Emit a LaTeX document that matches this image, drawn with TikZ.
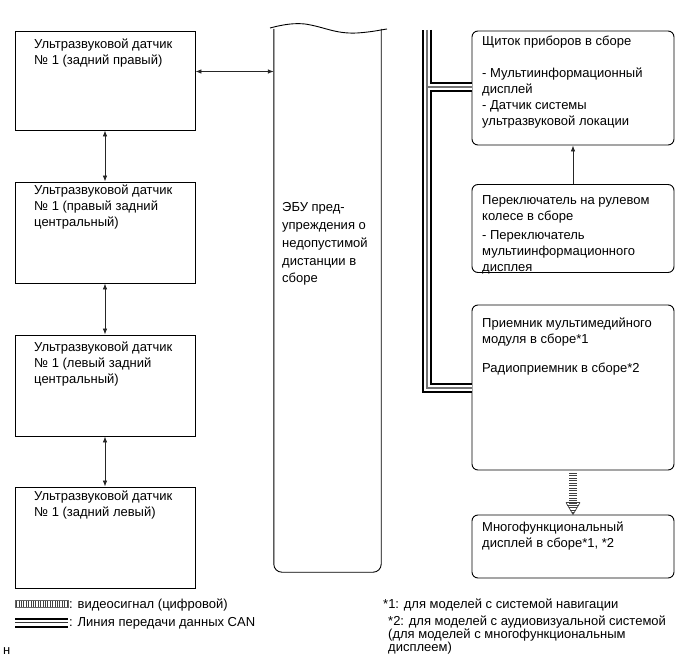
\documentclass[tikz,border=0pt]{standalone}
\usepackage{fontspec}
\setmainfont{Liberation Sans}
\usetikzlibrary{arrows.meta,calc}
\begin{document}
\begin{tikzpicture}[x=1pt,y=-1pt,
  lbox/.style={draw=black,line width=0.9pt,inner sep=0pt},
  rbox/.style={lbox,rounded corners=6pt},
  txt/.style={anchor=north west,inner sep=0pt,align=left,
    font=\fontsize{13}{16}\selectfont,execute at begin node={\strut}},
  arr/.style={draw=black!85,line width=0.7pt,
    {Latex[length=6pt,width=4.5pt]}-{Latex[length=6pt,width=4.5pt]}},
  uarr/.style={draw=black!85,line width=0.7pt,-{Latex[length=6pt,width=4.5pt]}},
  canA/.style={draw=black,line width=10pt,line join=miter},
  canB/.style={draw=white,line width=6pt,line join=miter},
  canC/.style={draw=black!55,line width=1.5pt,line join=miter},
  stripe/.style={draw=black!75,line width=0.8pt}
]
\useasboundingbox (0,0) rectangle (689,658);

% left sensor boxes
\node[lbox,minimum width=180pt,minimum height=99pt] (b1) at (105,80.5) {};
\node[lbox,minimum width=180pt,minimum height=101pt] (b2) at (105,232.5) {};
\node[lbox,minimum width=180pt,minimum height=101pt] (b3) at (105,385.5) {};
\node[lbox,minimum width=180pt,minimum height=101pt] (b4) at (105,537.5) {};

\node[txt] (t1) at (34,38.8) {Ультразвуковой датчик\\№ 1 (задний правый)};
\node[txt] (t2) at (34,184.8) {Ультразвуковой датчик\\№ 1 (правый задний\\центральный)};
\node[txt] (t3) at (34,341.8) {Ультразвуковой датчик\\№ 1 (левый задний\\центральный)};
\node[txt] (t4) at (34,490.8) {Ультразвуковой датчик\\№ 1 (задний левый)};

\draw[arr] (b1.south) -- (b2.north);
\draw[arr] (b2.south) -- (b3.north);
\draw[arr] (b3.south) -- (b4.north);

% ECU column
\node[inner sep=0pt,minimum width=107pt,minimum height=543pt] (ecu) at (327.5,300.5) {};
\draw[line width=0.9pt,rounded corners=8pt]
  (ecu.north west) -- (ecu.south west) -- (ecu.south east) -- (ecu.north east);
\draw[line width=0.9pt] (270,28) .. controls (285,24) and (295,23) .. (305,24)
  .. controls (325,27) and (335,34) .. (357,33)
  .. controls (372,32) and (380,30) .. (387,29);
\node[txt,font=\fontsize{13}{17.8}\selectfont] (te) at (282,202.5)
  {ЭБУ пред-\\упреждения о\\недопустимой\\дистанции в\\сборе};

\coordinate (a1) at ([yshift=9pt]b1.east);
\draw[arr] (a1) -- (ecu.west |- a1);

% right boxes
\node[rbox,minimum width=202pt,minimum height=114pt] (dash) at (573,88) {};
\node[rbox,minimum width=202pt,minimum height=88pt] (sw) at (573,228.5) {};
\node[rbox,minimum width=202pt,minimum height=165pt] (radio) at (573,387.5) {};
\node[rbox,minimum width=202pt,minimum height=63pt] (disp) at (573,546.5) {};

\node[txt] (td) at (482,35.8) {Щиток приборов в сборе\\[16pt]- Мультиинформационный\\дисплей\\- Датчик системы\\ультразвуковой локации};
\node[txt] (ts) at (482,195.8) {Переключатель на рулевом\\колесе в сборе\\[3pt]- Переключатель\\мультиинформационного\\дисплея};
\node[txt] (tr) at (482,317.8) {Приемник мультимедийного\\модуля в сборе*1\\[13pt]Радиоприемник в сборе*2};
\node[txt] (tp) at (482,521.8) {Многофункциональный\\дисплей в сборе*1, *2};

\draw[uarr] (sw.north) -- (dash.south);

% CAN bus
\coordinate (bt) at (427,30);
\coordinate (bj) at (427,87);
\coordinate (bc) at (427,388);
\newcommand\canroute[1]{%
  \draw[#1] (bt) -- (bc) -- (radio.west |- bc);
  \draw[#1] (bj) -- (dash.west |- bj);}
\canroute{canA}
\canroute{canB}
\canroute{canC}

% video signal arrow
\foreach \k in {1,...,13}
  \draw[stripe] ($(radio.south)+(-4,\k*2.5)$) -- ++(8,0);
\draw[draw=black!75,line width=0.7pt] ($(disp.north)+(-7,-12)$) -- (disp.north) -- ($(disp.north)+(7,-12)$);
\foreach \k in {0,...,4}
  \draw[stripe] ($(disp.north)+({-7*(12-\k*2.5)/12},{-12+\k*2.5})$) -- ($(disp.north)+({7*(12-\k*2.5)/12},{-12+\k*2.5})$);

% legend
\draw[draw=black!60,line width=0.5pt] (15,600.5) rectangle (68,607);
\foreach \k in {0,...,21}
  \draw[stripe,line width=0.7pt] ({16.5+\k*2.4},600.5) -- ++(0,6.5);
\node[txt] (lv) at (69,596.8) {: видеосигнал (цифровой)};

\coordinate (la) at (15,622.5);
\coordinate (lb) at (68,622.5);
\draw[canA] (la) -- (lb);
\draw[canB] (la) -- (lb);
\draw[canC,draw=black!80] (la) -- (lb);
\node[txt] (lc) at (69,614.8) {: Линия передачи данных CAN};

\node[txt] (f1) at (383,596.8) {*1: для моделей с системой навигации};
\node[txt,font=\fontsize{13}{13}\selectfont] (f2) at (388,615.4) {*2: для моделей с аудиовизуальной системой\\(для моделей с многофункциональным\\дисплеем)};

\node[txt] (h) at (3,642.8) {н};
\end{tikzpicture}
\end{document}
